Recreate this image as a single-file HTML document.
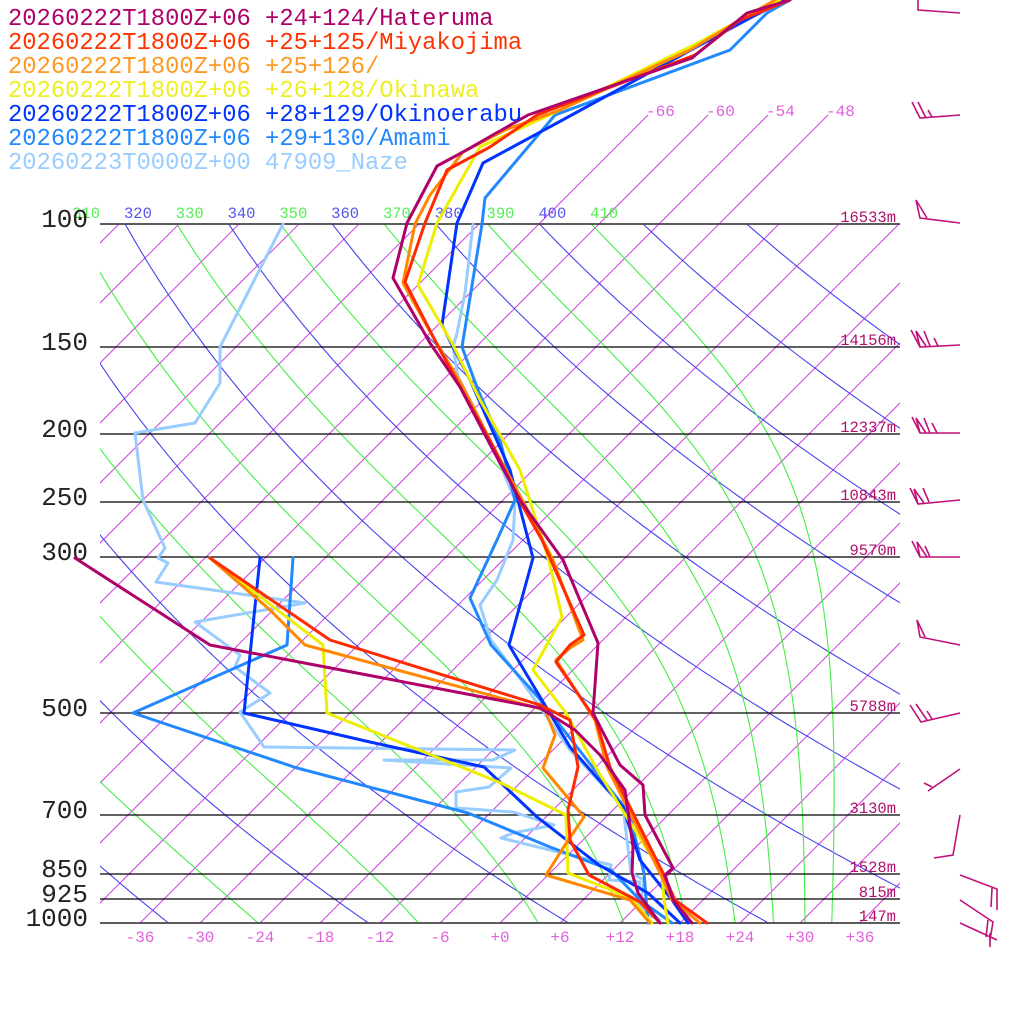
<!DOCTYPE html>
<html><head><meta charset="utf-8">
<style>
html,body{margin:0;padding:0;background:#fff;}
svg{display:block;}
.lg{font-family:"Liberation Mono",monospace;font-size:23.8px;}
.pl{font-family:"Liberation Mono",monospace;font-size:26px;fill:#222;}
.tl{font-family:"Liberation Mono",monospace;font-size:16px;fill:#e060e0;}
.al{font-family:"Liberation Mono",monospace;font-size:15.5px;}
.hl{font-family:"Liberation Mono",monospace;font-size:15.5px;fill:#b0106a;}
</style></head><body>
<svg id="s" width="1024" height="1024" viewBox="0 0 1024 1024" xmlns="http://www.w3.org/2000/svg">
<defs>
<clipPath id="cA"><rect x="100" y="224" width="800" height="699"/></clipPath>
<clipPath id="cI"><rect x="100" y="0" width="800" height="923"/></clipPath>
</defs>
<g id="grid"></g>
<g id="lines"></g>
<text class="lg" x="8" y="25" fill="#b0006a">20260222T1800Z+06 +24+124/Hateruma</text>
<text class="lg" x="8" y="49" fill="#ff3300">20260222T1800Z+06 +25+125/Miyakojima</text>
<text class="lg" x="8" y="73" fill="#ff9922">20260222T1800Z+06 +25+126/</text>
<text class="lg" x="8" y="97" fill="#eeee22">20260222T1800Z+06 +26+128/Okinawa</text>
<text class="lg" x="8" y="121" fill="#0033ff">20260222T1800Z+06 +28+129/Okinoerabu</text>
<text class="lg" x="8" y="145" fill="#2288ff">20260222T1800Z+06 +29+130/Amami</text>
<text class="lg" x="8" y="169" fill="#99ccff">20260223T0000Z+00 47909_Naze</text>
</svg>
<script>
(function(){
var NS="http://www.w3.org/2000/svg";
var grid=document.getElementById('grid'),lines=document.getElementById('lines');
function el(tag,attrs,parent,txt){var e=document.createElementNS(NS,tag);for(var k in attrs)e.setAttribute(k,attrs[k]);if(txt!==undefined)e.textContent=txt;(parent||grid).appendChild(e);return e;}
function Y(p){return 923-303.6*Math.log(1000/p);}
function X(T,y){return 500+10*T+(923-y);}
var gI=el('g',{'clip-path':'url(#cI)'});
for(var T=-120;T<=60;T+=6){
  var yt=(T>=-66&&T<=-48)?115:224;
  el('line',{x1:X(T,923),y1:923,x2:X(T,yt),y2:yt,stroke:'#d040e0','stroke-width':1},gI);
}
[-66,-60,-54,-48].forEach(function(T){el('text',{class:'tl',x:X(T,115)-2,y:116},grid,String(T));});
var gA=el('g',{'clip-path':'url(#cA)'});
for(var th=200;th<=440;th+=20){
  var d='';for(var p=100;p<=1000;p+=5){var y=Y(p);var t=th*Math.pow(p/1000,0.2857)-273.15;d+=(d?'L':'M')+X(t,y).toFixed(1)+' '+y.toFixed(1);}
  el('path',{d:d,fill:'none',stroke:'#4444ee','stroke-width':1.1},gA);
}
function es(tc){return 6.112*Math.exp(17.67*tc/(tc+243.5));}
for(var th=250;th<=410;th+=20){
  var Tk=th*Math.pow(0.1,0.2857);var d='M'+X(Tk-273.15,Y(100)).toFixed(1)+' '+Y(100).toFixed(1);
  for(var p=100;p<1000;p+=1){
    var e=es(Tk-273.15);var rs=0.622*e/Math.max(p-e,1);
    var dT=(287*Tk+2.5e6*rs)/(p*(1004+2.5e6*2.5e6*rs*0.622/(287*Tk*Tk)));
    Tk+=dT;var y=Y(p+1);
    if((p+1)%5==0)d+='L'+X(Tk-273.15,y).toFixed(1)+' '+y.toFixed(1);
  }
  el('path',{d:d,fill:'none',stroke:'#44ee44','stroke-width':1.1},gA);
}
for(var th=310;th<=410;th+=10){
  var t=th*Math.pow(0.1,0.2857)-273.15;var x=X(t,224);
  el('text',{class:'al',x:x-1,y:218,fill:(th%20==0)?'#5555ee':'#55ee55'},grid,String(th));
}
var lev=[[100,'16533m'],[150,'14156m'],[200,'12337m'],[250,'10843m'],[300,'9570m'],[500,'5788m'],[700,'3130m'],[850,'1528m'],[925,'815m'],[1000,'147m']];
lev.forEach(function(l){var y=Math.round(Y(l[0]));
  el('line',{x1:100,y1:y,x2:900,y2:y,stroke:(l[0]==100||l[0]==1000)?'#444':'#000','stroke-width':(l[0]==100||l[0]==1000)?1.8:1.3});
  el('text',{class:'pl',x:88,y:y+3,'text-anchor':'end'},grid,String(l[0]));
  el('text',{class:'hl',x:896,y:y-2,'text-anchor':'end'},grid,l[1]);
});
for(var T=-36;T<=36;T+=6){el('text',{class:'tl',x:X(T,923),y:942,'text-anchor':'middle'},grid,(T>=0?'+':'')+T);}
function P(pts,col){var d='';for(var i=0;i<pts.length;i+=2)d+=(i?'L':'M')+pts[i]+' '+pts[i+1];
  el('path',{d:d,fill:'none',stroke:col,'stroke-width':3,'stroke-linejoin':'round','stroke-linecap':'round'},lines);}
var naze='#99ccff',ama='#2288ff',oki='#0033ff',yel='#eeee00',ora='#ff8800',red='#ff2a00',hat='#b0006a';
P([283,224,220,347,220,383,195,423,135,433,143,500,165,548,158,558,168,563,156,582,305,603,195,622,240,655,235,667,270,693,240,712,264,747,515,750,493,760,384,760,511,768,489,787,456,792,456,808,513,812,554,825,513,833,501,838,611,865,609,880,640,882,636,903,652,917],naze);
P([473,224,465,293,457,333,453,347,458,377,470,400,490,440,515,500,513,540,497,580,480,605,491,640,521,680,570,750,623,807,631,873,644,880,640,907,660,920],naze);
P([293,558,287,645,133,713,297,768,468,813,550,847,611,870,640,900,672,923],ama);
P([790,0,767,13,730,50,555,115,485,198,482,224,462,347,478,390,500,440,515,500,497,540,470,598,491,645,538,697,587,760,629,813,644,873,648,923],ama);
P([260,558,244,713,370,742,484,767,537,817,599,865,648,893,680,923],oki);
P([785,0,750,18,700,45,557,123,483,163,457,223,442,325,453,347,470,380,510,470,533,558,509,645,570,747,623,807,640,860,672,900,688,923],oki);
P([210,558,323,645,327,713,419,750,501,783,566,815,568,873,631,898,652,923],yel);
P([780,0,740,20,700,42,560,110,480,147,437,223,418,285,452,343,480,400,520,470,548,557,562,617,533,670,566,713,599,773,662,873,664,900,668,923],yel);
P([210,558,270,610,305,645,545,710,555,735,543,768,584,817,565,845,546,875,630,900,650,923],ora);
P([775,0,740,20,690,50,560,110,505,130,463,152,430,195,415,224,403,283,433,337,462,385,495,450,525,505,553,560,583,640,570,648,556,660,595,720,607,767,660,873,672,900,700,923],ora);
P([210,558,330,640,540,705,570,720,578,767,568,810,570,840,589,875,640,902,660,923],red);
P([790,0,740,20,695,55,537,115,490,147,447,170,425,223,405,282,440,350,462,390,495,450,522,505,542,540,584,635,570,645,556,662,596,720,610,767,663,873,675,900,707,923],red);
P([75,558,210,645,540,708,575,730,600,755,625,790,633,847,632,873,638,893,660,923],hat);
P([790,0,747,13,692,58,528,115,463,152,437,166,407,223,393,278,430,343,460,387,493,450,520,500,563,560,598,643,593,713,620,765,643,785,645,815,673,868,665,875,673,900,692,923],hat);
function L(a,c){var d='';for(var i=0;i<a.length;i+=2)d+=(i?'L':'M')+a[i]+' '+a[i+1];el('path',{d:d,fill:'none',stroke:c||'#c0107a','stroke-width':1.6},grid);}
L([960,13,918,10,918,0]);
L([960,115,920,118,912,102]);L([926,118,918,102]);L([932,117,928,110]);
L([960,223,920,218,916,200,927,218]);
L([960,345,920,347,911,330]);L([920,347,916,331,926,346]);L([930,346,924,331]);L([938,346,934,338]);
L([960,433,920,433,912,417]);L([920,433,916,418,926,433]);L([930,433,924,418]);L([937,433,932,423]);
L([960,500,918,504,910,488]);L([918,504,914,489,924,503]);L([929,502,923,488]);
L([960,557,920,557,912,541]);L([920,557,917,542,927,557]);L([930,557,925,546]);
L([960,645,920,637,917,620,925,637]);
L([960,713,921,722,910,705]);L([927,720,916,704]);L([932,719,927,711]);
L([960,769,928,791]);L([932,787,924,783]);
L([960,815,953,855,934,858]);
L([960,875,997,889,997,910]);L([992,888,991,907]);
L([960,900,993,922,990,940]);L([988,920,986,937]);
L([960,923,997,940]);L([990,933,990,947]);
})();
</script>
</body></html>
